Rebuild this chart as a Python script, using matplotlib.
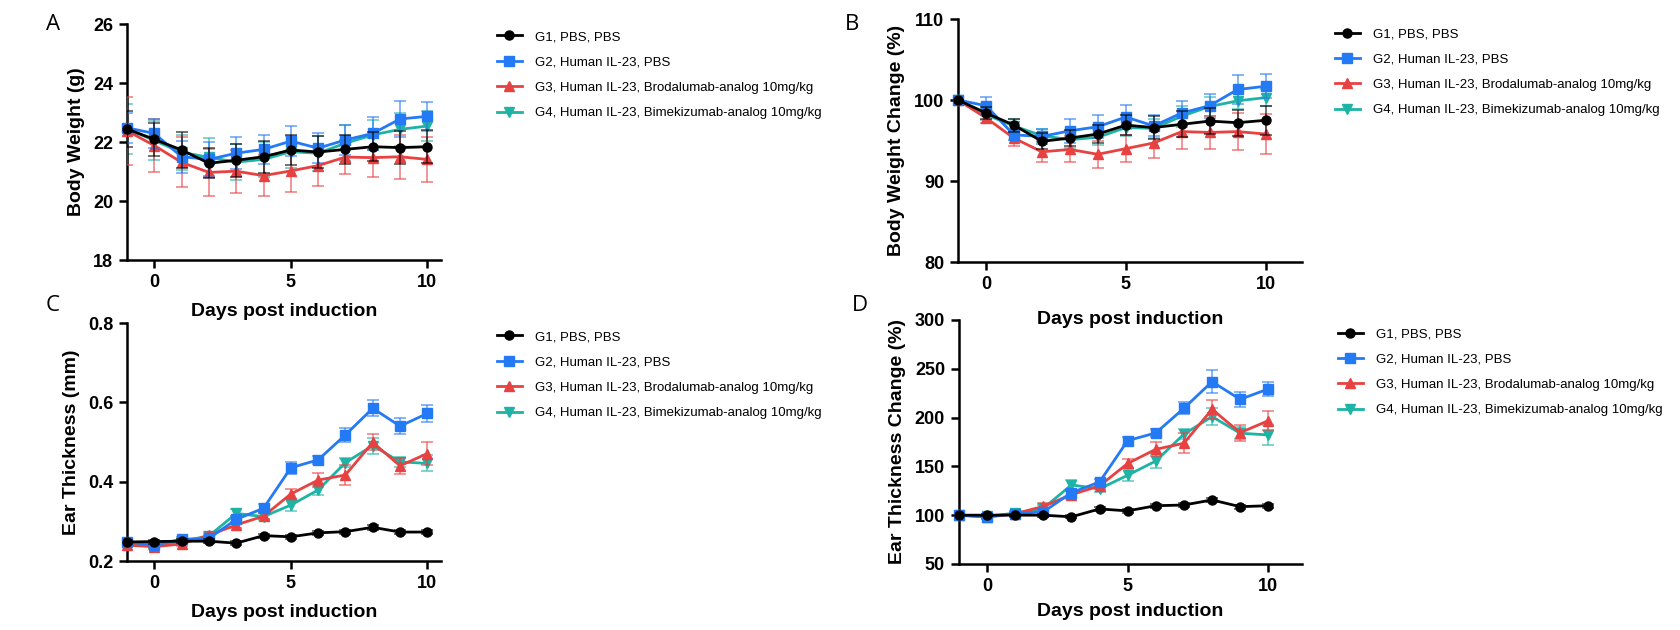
import numpy as np
import matplotlib
matplotlib.use("Agg")
import matplotlib.pyplot as plt
from matplotlib.lines import Line2D

plt.rcParams['font.family'] = ['Liberation Sans', 'DejaVu Sans']
plt.rcParams['font.weight'] = 'bold'

days = [-1, 0, 1, 2, 3, 4, 5, 6, 7, 8, 9, 10]
groups = ["G1, PBS, PBS",
          "G2, Human IL-23, PBS",
          "G3, Human IL-23, Brodalumab-analog 10mg/kg",
          "G4, Human IL-23, Bimekizumab-analog 10mg/kg"]
colors = ['#000000', '#2479f5', '#e84142', '#1db3a5']
markers = ['o', 's', '^', 'v']

# A - body weight (g)
bw_g1 = [22.44, 22.09, 21.73, 21.28, 21.38, 21.50, 21.73, 21.66, 21.75, 21.84, 21.81, 21.84]
bw_g2 = [22.48, 22.29, 21.50, 21.41, 21.62, 21.75, 22.03, 21.79, 22.07, 22.29, 22.78, 22.87]
bw_g3 = [22.38, 21.88, 21.31, 20.97, 21.01, 20.86, 21.02, 21.20, 21.49, 21.47, 21.50, 21.41]
bw_g4 = [22.45, 22.05, 21.65, 21.48, 21.32, 21.41, 21.67, 21.62, 21.96, 22.24, 22.43, 22.54]
bw_e1 = [0.60, 0.55, 0.60, 0.50, 0.55, 0.55, 0.50, 0.55, 0.50, 0.50, 0.55, 0.55]
bw_e2 = [0.50, 0.50, 0.55, 0.60, 0.55, 0.50, 0.50, 0.50, 0.50, 0.55, 0.60, 0.50]
bw_e3 = [1.15, 0.90, 0.85, 0.80, 0.73, 0.70, 0.72, 0.68, 0.58, 0.66, 0.74, 0.77]
bw_e4 = [0.84, 0.65, 0.60, 0.64, 0.60, 0.60, 0.55, 0.60, 0.60, 0.50, 0.55, 0.50]

# B - body weight change (%)
bwc_g1 = [100, 98.4, 96.9, 94.9, 95.3, 95.8, 96.9, 96.6, 97.0, 97.4, 97.2, 97.5]
bwc_g2 = [100, 99.3, 95.7, 95.5, 96.2, 96.7, 97.9, 96.8, 98.4, 99.3, 101.3, 101.7]
bwc_g3 = [100, 97.8, 95.3, 93.6, 93.9, 93.3, 94.0, 94.7, 96.1, 96.0, 96.1, 95.8]
bwc_g4 = [100, 98.2, 96.8, 95.6, 95.1, 95.4, 96.6, 96.5, 98.0, 99.2, 99.9, 100.3]
bwc_e1 = [0, 0.8, 0.8, 1.0, 1.0, 1.1, 1.2, 1.4, 1.6, 1.6, 1.6, 1.8]
bwc_e2 = [0, 1.1, 0.6, 0.9, 1.45, 1.4, 1.5, 1.3, 1.5, 1.5, 1.8, 1.5]
bwc_e3 = [0, 0.6, 1.0, 1.3, 1.6, 1.7, 1.7, 1.8, 2.1, 2.0, 2.3, 2.5]
bwc_e4 = [0, 0.7, 0.8, 0.8, 1.0, 1.0, 1.0, 1.2, 1.3, 1.2, 1.0, 1.0]

# C - ear thickness (mm)
et_g1 = [0.248, 0.249, 0.250, 0.250, 0.245, 0.264, 0.261, 0.271, 0.274, 0.285, 0.273, 0.273]
et_g2 = [0.249, 0.240, 0.255, 0.257, 0.305, 0.333, 0.435, 0.455, 0.518, 0.585, 0.540, 0.572]
et_g3 = [0.240, 0.236, 0.243, 0.265, 0.291, 0.313, 0.369, 0.404, 0.417, 0.499, 0.440, 0.471]
et_g4 = [0.245, 0.238, 0.250, 0.263, 0.320, 0.312, 0.341, 0.379, 0.448, 0.491, 0.450, 0.446]
et_e1 = [0.005, 0.005, 0.005, 0.005, 0.005, 0.005, 0.005, 0.005, 0.005, 0.006, 0.005, 0.006]
et_e2 = [0.005, 0.005, 0.005, 0.007, 0.008, 0.010, 0.015, 0.010, 0.017, 0.020, 0.020, 0.022]
et_e3 = [0.005, 0.005, 0.006, 0.008, 0.008, 0.008, 0.013, 0.017, 0.025, 0.020, 0.020, 0.028]
et_e4 = [0.005, 0.005, 0.005, 0.006, 0.012, 0.008, 0.015, 0.013, 0.012, 0.020, 0.012, 0.020]

# D - ear thickness change (%)
etc_g1 = [100, 100, 100, 100, 98.3, 106.4, 104.4, 109.7, 110.4, 115.6, 108.7, 109.7]
etc_g2 = [100, 98.3, 101.7, 103.4, 123, 134, 176.4, 184.3, 209.5, 236.8, 218.7, 229.3]
etc_g3 = [100, 98, 101.5, 109, 121, 130, 153, 167.5, 173.7, 208.5, 184.5, 196.8]
etc_g4 = [100, 99, 102, 107, 131, 127, 140.9, 155.5, 183, 201, 184, 182.2]
etc_e1 = [0, 1, 1.5, 1.5, 1.5, 2, 2, 2, 2, 2, 2, 2]
etc_e2 = [0, 2, 2, 3, 3, 3, 4, 4, 6, 12, 8, 7]
etc_e3 = [0, 2, 2, 3, 4, 3, 5, 7, 10, 10, 8, 10]
etc_e4 = [0, 2, 2, 3, 5, 3, 6, 7, 5, 9, 6, 10]


def draw_panel(ax, ys, es, ylabel, ylim, yticks, xmax, xpad, fmt=None):
    ax.patch.set_visible(False)  # neighbouring labels overlap the axes areas
    # draw G4 first so G1 ends on top
    for i in [3, 2, 1, 0]:
        ax.errorbar(days, ys[i], yerr=es[i], fmt='none', ecolor=colors[i], alpha=0.7,
                    elinewidth=1.1, capsize=4.5, capthick=1.1, zorder=2 + (3 - i) * 2)
        ax.plot(days, ys[i], color=colors[i], marker=markers[i], markersize=6.5,
                linewidth=2.0, zorder=3 + (3 - i) * 2, clip_on=False)
    ax.set_xlim(-1, xmax)
    ax.set_ylim(ylim)
    ax.set_xticks([0, 5, 10])
    ax.set_yticks(yticks)
    if fmt:
        ax.set_yticklabels([fmt % v for v in yticks])
    ax.spines['top'].set_visible(False)
    ax.spines['right'].set_visible(False)
    ax.spines['left'].set_linewidth(1.8)
    ax.spines['bottom'].set_linewidth(1.8)
    ax.tick_params(direction='out', length=6, width=1.8, labelsize=13, pad=4)
    ax.set_xlabel("Days post induction", fontsize=14, fontweight='bold', labelpad=xpad)
    ax.set_ylabel(ylabel, fontsize=14, fontweight='bold', labelpad=6)


fig = plt.figure(figsize=(16.8, 6.3), dpi=100)
axA = fig.add_axes([0.0756, 0.5873, 0.1869, 0.3746])
axB = fig.add_axes([0.5702, 0.5841, 0.2048, 0.3857])
axC = fig.add_axes([0.0756, 0.1095, 0.1869, 0.3778])
axD = fig.add_axes([0.5708, 0.1048, 0.2042, 0.3873])

draw_panel(axA, [bw_g1, bw_g2, bw_g3, bw_g4], [bw_e1, bw_e2, bw_e3, bw_e4],
           "Body Weight (g)", (18, 26), [18, 20, 22, 24, 26], 10.5, 9)
draw_panel(axB, [bwc_g1, bwc_g2, bwc_g3, bwc_g4], [bwc_e1, bwc_e2, bwc_e3, bwc_e4],
           "Body Weight Change (%)", (80, 110), [80, 90, 100, 110], 11.3, 13)
draw_panel(axC, [et_g1, et_g2, et_g3, et_g4], [et_e1, et_e2, et_e3, et_e4],
           "Ear Thickness (mm)", (0.2, 0.8), [0.2, 0.4, 0.6, 0.8], 10.5, 9, fmt='%.1f')
draw_panel(axD, [etc_g1, etc_g2, etc_g3, etc_g4], [etc_e1, etc_e2, etc_e3, etc_e4],
           "Ear Thickness Change (%)", (50, 300), [50, 100, 150, 200, 250, 300], 11.2, 6)

handles = [Line2D([0], [0], color=colors[i], marker=markers[i], markersize=6.5, linewidth=2.0)
           for i in range(4)]
for pos in [(0.2958, 0.951), (0.7946, 0.9557), (0.2958, 0.4748), (0.7964, 0.4795)]:
    fig.legend(handles, groups, loc='upper left', bbox_to_anchor=pos, frameon=False,
               prop={'family': 'Liberation Sans', 'weight': 'normal', 'size': 9.5},
               handlelength=1.9, handletextpad=1.0, labelspacing=1.0,
               borderpad=0, borderaxespad=0)

for letter, px, py in [('A', 53, 25), ('B', 852, 25), ('C', 53, 305), ('D', 860, 305)]:
    fig.text(px / 1680, 1 - py / 630, letter, ha='center', va='center', fontsize=16,
             fontweight='normal', family='Open Sans')

plt.savefig('out.png', dpi=100)
